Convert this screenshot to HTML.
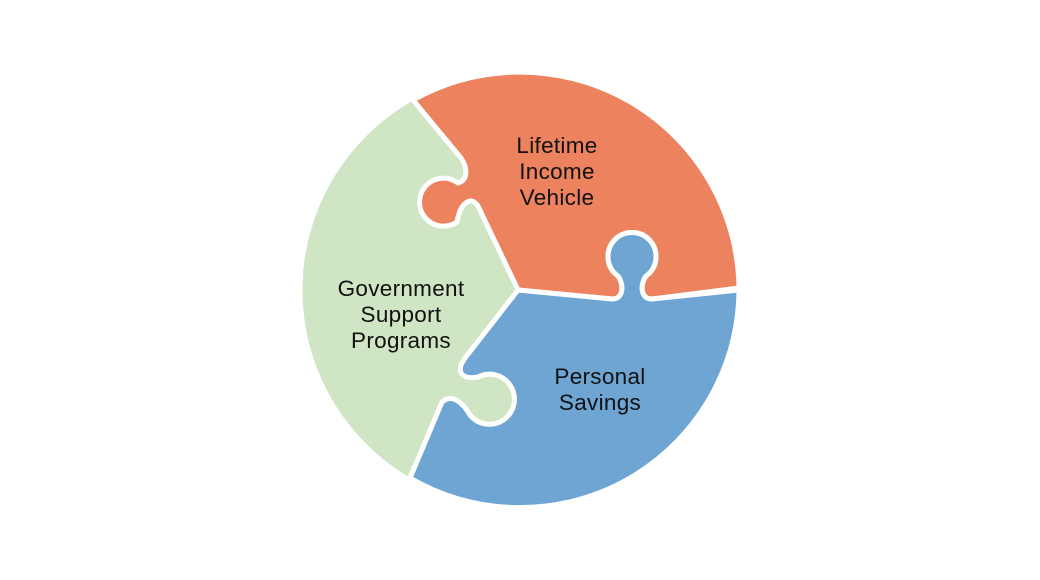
<!DOCTYPE html>
<html><head><style>html,body{margin:0;background:#fff;width:1040px;height:580px;overflow:hidden}
text{font-family:"Liberation Sans",sans-serif;font-size:22.5px;fill:#111;text-anchor:middle;letter-spacing:0.3px}</style></head>
<body>
<svg width="1040" height="580" viewBox="0 0 1040 580">
<circle cx="520" cy="290" r="219" fill="#cfe5c4"/>
<path d="M413,100 A219,219 0 0,1 739,288 L652,299 C640,299 640,284 646,276 A24,24 0 1,0 618,276 C624,284 624,299 612,299 L518,290 L478,206 C471,195 460,203 457,222 A24,24 0 1,1 458,183 C468,180 468,168 461,158 Z" fill="#ec825e" stroke="#fff" stroke-width="5" stroke-linejoin="round"/>
<path d="M518,290 L612,299 C624,299 624,284 618,276 A24,24 0 1,1 646,276 C640,284 640,299 652,299 L739,290 A219,219 0 0,1 410,478 L442,402 C452,393 463,403 470,415 A25,25 0 1,0 478,377 C462,380 455,372 465,358 Z" fill="#6ea5d3" stroke="#fff" stroke-width="5" stroke-linejoin="round"/>
<circle cx="520" cy="290" r="219" fill="none" stroke="#fff" stroke-width="3"/>
<text x="557" y="153">Lifetime</text>
<text x="557" y="179">Income</text>
<text x="557" y="205">Vehicle</text>
<text x="401" y="296">Government</text>
<text x="401" y="322">Support</text>
<text x="401" y="348">Programs</text>
<text x="600" y="384">Personal</text>
<text x="600" y="410">Savings</text>
</svg>
</body></html>
